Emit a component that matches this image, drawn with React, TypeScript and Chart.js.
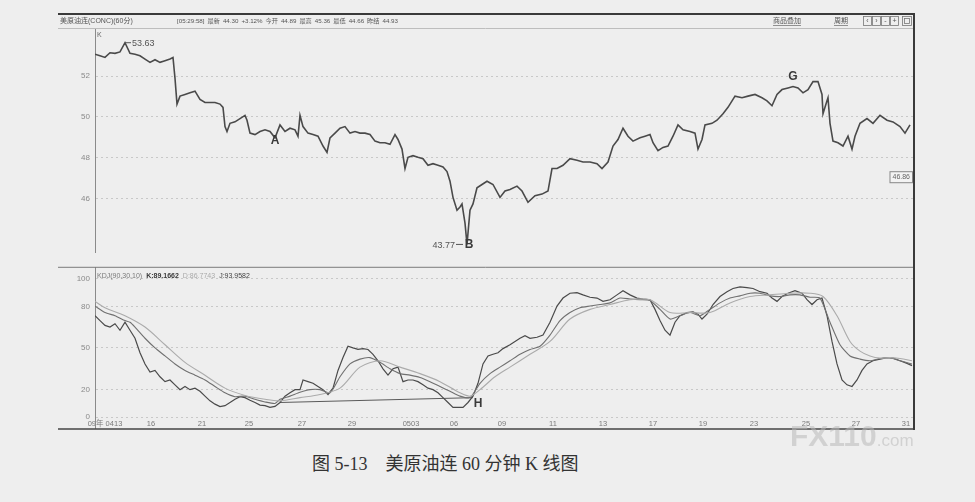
import { useEffect, useRef } from "react";
import { Chart, registerables } from "chart.js";

Chart.register(...registerables);

const SANS = "'Liberation Sans', 'Noto Sans CJK SC', sans-serif";

// 60-minute bar numbers (hours from the first bar) and closing prices
const priceBars = [
  0, 5, 10, 15, 20, 25, 30, 35, 40, 45,
  50, 55, 60, 65, 70, 75, 78, 80, 82, 85,
  90, 95, 100, 105, 110, 115, 120, 125, 128, 130,
  132, 135, 140, 145, 150, 152, 155, 160, 165, 170,
  175, 180, 185, 190, 195, 200, 203, 205, 208, 213,
  218, 223, 228, 232, 235, 240, 245, 250, 255, 260,
  265, 270, 275, 280, 285, 290, 295, 300, 303, 307,
  310, 313, 318, 323, 328, 333, 338, 343, 348, 352,
  355, 358, 362, 365, 367, 370, 372, 375, 378, 382,
  387, 392, 398, 405, 410, 415, 422, 427, 433, 440,
  447, 453, 457, 462, 468, 475, 482, 488, 495, 502,
  507, 513, 518, 523, 528, 533, 538, 545, 550, 555,
  558, 563, 568, 573, 578, 583, 588, 595, 600, 603,
  607, 610, 617, 622, 628, 633, 640, 647, 653, 660,
  667, 672, 677, 682, 687, 693, 698, 703, 708, 713,
  718, 723, 727, 728, 732, 733, 735, 738, 743, 748,
  753, 757, 760, 765, 772, 778, 785, 792, 798, 805,
  810, 815,
];
const priceClose = [
  53.07, 52.99, 52.91, 53.14, 53.11, 53.18, 53.63, 53.11, 53.07, 52.99,
  52.83, 52.67, 52.8, 52.67, 52.75, 52.83, 52.91, 51.89, 50.63, 51.02,
  51.1, 51.18, 51.26, 50.86, 50.71, 50.71, 50.71, 50.63, 50.47, 49.53,
  49.29, 49.69, 49.76, 49.92, 50.08, 49.84, 49.21, 49.14, 49.29, 49.37,
  49.29, 48.98, 49.61, 49.29, 49.45, 49.37, 49.06, 50.08, 49.53, 49.21,
  49.14, 49.06, 48.58, 48.27, 48.98, 49.21, 49.45, 49.53, 49.21, 49.29,
  49.21, 49.21, 49.14, 48.82, 48.74, 48.74, 48.66, 49.14, 48.9, 48.43,
  47.48, 48.03, 48.11, 48.03, 47.96, 47.64, 47.72, 47.64, 47.56, 47.33,
  46.86, 46.07, 45.44, 45.6, 45.75, 44.81, 43.77, 45.44, 45.75, 46.54,
  46.7, 46.86, 46.7, 46.07, 46.38, 46.46, 46.62, 46.38, 45.83, 46.15,
  46.23, 46.38, 47.48, 47.48, 47.64, 47.96, 47.88, 47.8, 47.8, 47.72,
  47.48, 47.8, 48.58, 48.9, 49.45, 49.06, 48.82, 48.98, 49.06, 49.14,
  48.74, 48.35, 48.51, 48.58, 49.06, 49.61, 49.37, 49.29, 49.21, 48.43,
  48.9, 49.61, 49.69, 49.84, 50.16, 50.47, 51.02, 50.94, 51.02, 51.1,
  50.94, 50.79, 50.55, 51.1, 51.34, 51.42, 51.49, 51.42, 51.18, 51.34,
  51.73, 51.73, 51.1, 50.16, 50.79, 50.94, 49.69, 48.82, 48.74, 48.58,
  49.06, 48.43, 49.06, 49.69, 49.92, 49.69, 50.08, 49.84, 49.76, 49.53,
  49.21, 49.61,
];
const priceTicks = [46, 48, 50, 52];
const priceHigh = 53.63;
const priceLow = 43.77;
const lastPrice = 46.86;
// marked turning points: A (bar 180) and G (bar 698)
const pointA = 180;
const pointG = 698;

// KDJ(90,30,10)
const jBars = [
  0, 5, 10, 15, 20, 25, 30, 35, 40, 45,
  50, 55, 60, 65, 70, 75, 80, 85, 90, 95,
  100, 105, 110, 115, 120, 125, 130, 135, 140, 145,
  150, 155, 160, 165, 170, 175, 180, 185, 190, 195,
  200, 205, 208, 213, 218, 223, 228, 233, 238, 243,
  248, 253, 258, 263, 268, 273, 278, 283, 288, 293,
  298, 303, 308, 313, 318, 323, 328, 333, 338, 343,
  348, 353, 358, 363, 368, 373, 378, 383, 388, 393,
  398, 403, 408, 415, 425, 430, 435, 442, 448, 455,
  462, 468, 475, 482, 488, 495, 502, 508, 515, 522,
  528, 535, 542, 548, 555, 560, 565, 570, 575, 580,
  585, 592, 598, 603, 607, 612, 618, 625, 632, 638,
  645, 652, 658, 665, 672, 677, 682, 687, 693, 700,
  707, 712, 717, 722, 727, 732, 737, 742, 747, 752,
  757, 762, 767, 772, 778, 785, 792, 798, 805, 812,
  817,
];
const jValues = [
  73.3, 69.8, 66.3, 65.1, 67.5, 62.8, 68.6, 62.8, 57.0, 46.5,
  38.4, 32.6, 33.7, 29.1, 25.6, 26.8, 23.3, 19.8, 22.1, 19.8,
  20.9, 18.6, 15.1, 11.7, 9.3, 7.5, 8.2, 10.5, 12.8, 14.7,
  14.0, 12.1, 10.5, 8.6, 8.2, 7.0, 7.7, 10.5, 15.1, 17.5,
  19.8, 19.8, 26.8, 25.6, 24.4, 22.1, 19.8, 16.3, 20.9, 33.7,
  43.0, 51.2, 50.0, 48.9, 49.5, 48.9, 45.4, 40.7, 34.9, 30.3,
  34.9, 36.1, 25.6, 26.8, 26.8, 25.6, 23.3, 20.9, 19.8, 17.5,
  14.0, 10.5, 7.0, 7.0, 7.0, 10.5, 15.1, 24.4, 38.4, 44.2,
  45.4, 46.5, 49.5, 52.3, 57.0, 58.8, 57.0, 57.7, 59.3, 68.6,
  80.3, 86.1, 89.6, 90.0, 88.4, 86.7, 86.1, 83.7, 84.9, 88.4,
  91.4, 88.4, 86.1, 85.4, 84.9, 77.9, 69.8, 62.8, 59.3, 68.6,
  73.3, 75.6, 76.1, 74.4, 70.9, 74.4, 81.4, 87.2, 90.7, 93.0,
  94.2, 93.7, 93.0, 90.7, 89.6, 86.1, 83.7, 87.2, 89.6, 91.4,
  89.6, 84.9, 81.4, 84.9, 86.1, 73.3, 54.7, 38.4, 26.8, 23.3,
  22.1, 26.8, 33.7, 38.4, 40.7, 41.9, 43.0, 42.6, 40.7, 38.8,
  37.2,
];
const kBars = [
  0, 10, 20, 30, 35, 40, 50, 60, 70, 80,
  90, 100, 110, 120, 130, 140, 150, 160, 170, 180,
  185, 195, 205, 215, 225, 235, 245, 255, 265, 275,
  285, 295, 305, 315, 325, 335, 345, 355, 365, 375,
  385, 395, 405, 415, 425, 435, 445, 455, 465, 475,
  485, 495, 505, 515, 525, 535, 545, 555, 565, 575,
  585, 595, 605, 615, 625, 635, 645, 655, 665, 675,
  685, 695, 705, 715, 725, 735, 745, 755, 765, 775,
  785, 795, 805, 817,
];
const kValues = [
  80.2, 75.6, 73.3, 69.8, 68.6, 65.1, 57.0, 50.0, 44.2, 38.4,
  33.7, 30.3, 26.8, 22.1, 17.5, 14.7, 15.1, 12.8, 10.9, 9.8,
  12.8, 15.1, 17.9, 19.8, 19.8, 17.5, 29.1, 38.4, 41.9, 43.0,
  39.6, 34.9, 31.4, 30.3, 28.6, 25.6, 22.1, 18.6, 15.1, 14.0,
  24.4, 31.4, 36.1, 40.7, 45.4, 48.9, 51.2, 59.3, 69.8, 75.6,
  79.1, 80.3, 81.4, 82.6, 86.1, 85.4, 84.9, 84.4, 77.9, 70.9,
  73.3, 75.6, 73.3, 77.9, 82.6, 86.1, 87.7, 89.6, 89.6, 87.7,
  87.2, 88.4, 88.4, 86.7, 86.1, 68.6, 52.3, 44.2, 41.9, 40.7,
  42.3, 43.0, 40.7, 38.4,
];
const dBars = [
  0, 10, 30, 50, 70, 90, 110, 130, 150, 170,
  185, 205, 225, 245, 265, 285, 305, 325, 345, 365,
  375, 385, 400, 415, 435, 455, 475, 495, 515, 535,
  555, 575, 595, 615, 635, 655, 675, 695, 715, 728,
  742, 755, 765, 775, 785, 795, 805, 817,
];
const dValues = [
  83.7, 79.1, 73.3, 65.1, 52.3, 39.5, 30.2, 20.9, 15.6, 12.8,
  11.7, 14.0, 16.3, 20.9, 36.1, 40.7, 36.1, 31.4, 25.6, 17.5,
  15.1, 19.8, 29.1, 36.1, 45.4, 54.7, 70.9, 77.9, 81.4, 84.9,
  84.9, 75.6, 75.6, 75.6, 82.6, 87.2, 88.4, 89.6, 89.6, 87.2,
  73.3, 54.7, 47.7, 44.2, 42.6, 43.0, 42.3, 40.7,
];
// support line drawn under the J lows, ending at H
const trendBars = [185, 378];
const trendValues = [10.5, 14.0];
const kdjTicks = [0, 20, 50, 80, 100];

const dateBars = [10, 56, 107, 154, 207, 257, 316, 359, 407, 458, 508, 558, 608, 659, 711, 761, 811];
const dateLabels = ["09年 0413", "16", "21", "25", "27", "29", "0503", "06", "09", "11", "13", "17", "19", "23", "25", "27", "31"];

const headerTitle = "美原油连(CONC)(60分)";
const quoteItems = ["[05:29:58]", "最新", "44.30", "+3.12%", "今开", "44.89", "最高", "45.36", "最低", "44.66", "昨结", "44.93"];
const kdjHeader = [
  { text: "KDJ(90,30,10)", color: "#7a7a7a", bold: false },
  { text: "K:89.1662", color: "#3a3a3a", bold: true },
  { text: "D:86.7743", color: "#aaaaaa", bold: false },
  { text: "J:93.9582", color: "#444444", bold: false },
];

const BAR_MAX = 818;

const toPoints = (xs: number[], ys: number[]) => xs.map((x, i) => ({ x, y: ys[i] }));

function seg(ctx: CanvasRenderingContext2D, x1: number, y1: number, x2: number, y2: number) {
  ctx.beginPath();
  ctx.moveTo(x1, y1);
  ctx.lineTo(x2, y2);
  ctx.stroke();
}

export default function App() {
  const priceRef = useRef<HTMLCanvasElement>(null);
  const kdjRef = useRef<HTMLCanvasElement>(null);

  useEffect(() => {
    Chart.defaults.font.family = SANS;

    const priceDecor = {
      id: "priceDecor",
      afterDraw(chart: any) {
        const { ctx, chartArea: a, scales } = chart;
        const xs = scales.x;
        const ys = scales.y;
        ctx.save();
        // window frame
        ctx.strokeStyle = "#3a3a3a";
        ctx.lineWidth = 2;
        seg(ctx, 58, 14, a.right + 1, 14);
        seg(ctx, a.right + 1, 13, a.right + 1, chart.height);
        ctx.strokeStyle = "#bdbdbd";
        ctx.lineWidth = 1;
        seg(ctx, 58, a.top - 0.5, a.right, a.top - 0.5);

        // header line
        ctx.textBaseline = "middle";
        ctx.textAlign = "left";
        ctx.font = `7px ${SANS}`;
        ctx.fillStyle = "#555";
        ctx.fillText(headerTitle, 60, 21);
        ctx.font = `6.2px ${SANS}`;
        let hx = 177;
        quoteItems.forEach((s) => {
          ctx.fillText(s, hx, 21);
          hx += ctx.measureText(s).width + 3;
        });
        ctx.font = `7px ${SANS}`;
        ctx.fillText("商品叠加", 773, 21);
        ctx.fillText("周期", 834, 21);
        ctx.strokeStyle = "#777";
        ctx.lineWidth = 0.8;
        seg(ctx, 773, 25.5, 773 + ctx.measureText("商品叠加").width, 25.5);
        seg(ctx, 834, 25.5, 834 + ctx.measureText("周期").width, 25.5);
        const btns = ["‹", "›", "-", "+"];
        btns.forEach((b, i) => {
          const bx = 863 + i * 9;
          ctx.strokeRect(bx + 0.5, 16.5, 8, 9);
          ctx.textAlign = "center";
          ctx.fillText(b, bx + 4.5, 21);
        });
        ctx.strokeRect(902.5, 16.5, 9, 9);
        ctx.strokeRect(904.5, 18.5, 5, 5);
        ctx.textAlign = "left";

        // chart type mark
        ctx.font = `7px ${SANS}`;
        ctx.fillStyle = "#666";
        ctx.fillText("K", a.left + 2, a.top + 6);

        // high marker
        const iHi = priceClose.indexOf(priceHigh);
        const hpx = xs.getPixelForValue(priceBars[iHi]);
        const hpy = ys.getPixelForValue(priceHigh);
        ctx.strokeStyle = "#555";
        ctx.lineWidth = 1;
        seg(ctx, hpx, hpy, hpx + 6, hpy);
        ctx.font = `9px ${SANS}`;
        ctx.fillStyle = "#555";
        ctx.fillText(priceHigh.toFixed(2), hpx + 7, hpy + 1);

        // low marker with B
        const iLo = priceClose.indexOf(priceLow);
        const lpx = xs.getPixelForValue(priceBars[iLo]);
        const lpy = ys.getPixelForValue(priceLow);
        seg(ctx, lpx - 11, lpy, lpx - 4, lpy);
        ctx.textAlign = "right";
        ctx.fillText(priceLow.toFixed(2), lpx - 12, lpy + 1);
        ctx.textAlign = "center";
        ctx.font = `bold 12px ${SANS}`;
        ctx.fillStyle = "#3a3a3a";
        ctx.fillText("B", lpx + 2, lpy);

        // A and G
        const iA = priceBars.indexOf(pointA);
        ctx.fillText("A", xs.getPixelForValue(pointA), ys.getPixelForValue(priceClose[iA]) + 3);
        const iG = priceBars.indexOf(pointG);
        ctx.fillText("G", xs.getPixelForValue(pointG), ys.getPixelForValue(priceClose[iG]) - 10);

        // last price tag
        ctx.font = `7px ${SANS}`;
        const tag = lastPrice.toFixed(2);
        const tw = ctx.measureText(tag).width + 5;
        const ty = ys.getPixelForValue(lastPrice) - 4;
        ctx.fillStyle = "#f3f3f3";
        ctx.fillRect(a.right - tw - 1, ty - 5.5, tw, 11);
        ctx.strokeStyle = "#888";
        ctx.strokeRect(a.right - tw - 0.5, ty - 5.5, tw, 11);
        ctx.fillStyle = "#666";
        ctx.fillText(tag, a.right - tw / 2 - 0.5, ty);
        ctx.restore();
      },
    };

    const kdjDecor = {
      id: "kdjDecor",
      afterDraw(chart: any) {
        const { ctx, chartArea: a, scales } = chart;
        ctx.save();
        ctx.strokeStyle = "#7a7a7a";
        ctx.lineWidth = 1;
        seg(ctx, 58, a.top - 0.5, a.right, a.top - 0.5);
        ctx.strokeStyle = "#8a8a8a";
        seg(ctx, a.left + 0.5, a.bottom, a.left + 0.5, a.bottom + 12);
        ctx.strokeStyle = "#444";
        ctx.lineWidth = 1.5;
        seg(ctx, 58, a.bottom + 12, a.right + 2, a.bottom + 12);
        ctx.strokeStyle = "#3a3a3a";
        ctx.lineWidth = 2;
        seg(ctx, a.right + 1, 0, a.right + 1, a.bottom + 13);

        // indicator header
        ctx.textBaseline = "middle";
        ctx.textAlign = "left";
        let kx = a.left + 2;
        kdjHeader.forEach((h) => {
          ctx.font = `${h.bold ? "bold " : ""}7px ${SANS}`;
          ctx.fillStyle = h.color;
          ctx.fillText(h.text, kx, a.top + 8);
          kx += ctx.measureText(h.text).width + 4;
        });

        // H at the end of the support line
        const hx = scales.x.getPixelForValue(trendBars[1]);
        const hy = scales.y.getPixelForValue(trendValues[1]);
        ctx.font = `bold 12px ${SANS}`;
        ctx.fillStyle = "#3a3a3a";
        ctx.textAlign = "center";
        ctx.fillText("H", hx + 5, hy + 6);
        ctx.restore();
      },
    };

    const yTickFont = { size: 8, family: SANS };

    const priceChart = new Chart(priceRef.current as HTMLCanvasElement, {
      type: "line",
      data: {
        datasets: [
          {
            data: toPoints(priceBars, priceClose),
            borderColor: "#4a4a4a",
            borderWidth: 1.6,
            pointRadius: 0,
            tension: 0,
          },
        ],
      },
      options: {
        animation: false,
        responsive: false,
        maintainAspectRatio: false,
        events: [],
        layout: { padding: { left: 0, right: 62, top: 29, bottom: 2 } },
        plugins: { legend: { display: false }, tooltip: { enabled: false } },
        scales: {
          x: { type: "linear", min: 0, max: BAR_MAX, display: false },
          y: {
            min: 43.39,
            max: 54.3,
            bounds: "data",
            afterFit: (s: any) => {
              s.width = 95;
            },
            afterBuildTicks: (s: any) => {
              s.ticks = priceTicks.map((v) => ({ value: v }));
            },
            ticks: { color: "#8a8a8a", font: yTickFont, padding: 5 },
            grid: { color: "#c8c8c8", drawTicks: false },
            border: { display: true, color: "#8a8a8a", width: 1, dash: [2, 3] },
          },
        },
      } as any,
      plugins: [priceDecor],
    });

    const kdjChart = new Chart(kdjRef.current as HTMLCanvasElement, {
      type: "line",
      data: {
        datasets: [
          { data: toPoints(dBars, dValues), borderColor: "#ababab", borderWidth: 1.1, pointRadius: 0, tension: 0.3 },
          { data: toPoints(kBars, kValues), borderColor: "#707070", borderWidth: 1.1, pointRadius: 0, tension: 0.2 },
          { data: toPoints(jBars, jValues), borderColor: "#4a4a4a", borderWidth: 1.2, pointRadius: 0, tension: 0 },
          { data: toPoints(trendBars, trendValues), borderColor: "#5a5a5a", borderWidth: 1, pointRadius: 0, tension: 0 },
        ],
      },
      options: {
        animation: false,
        responsive: false,
        maintainAspectRatio: false,
        events: [],
        layout: { padding: { left: 0, right: 62, top: 4, bottom: 7 } },
        plugins: { legend: { display: false }, tooltip: { enabled: false } },
        scales: {
          x: {
            type: "linear",
            min: 0,
            max: BAR_MAX,
            bounds: "data",
            position: "bottom",
            afterFit: (s: any) => {
              s.height = 14;
            },
            afterBuildTicks: (s: any) => {
              s.ticks = dateBars.map((v) => ({ value: v }));
            },
            ticks: {
              autoSkip: false,
              maxRotation: 0,
              padding: 2,
              color: "#7a7a7a",
              font: { size: 7.5, family: SANS },
              callback: (_v: any, i: number) => dateLabels[i],
            },
            grid: { display: false, drawTicks: false },
            border: { display: false },
          },
          y: {
            min: 0,
            max: 108,
            bounds: "data",
            afterFit: (s: any) => {
              s.width = 95;
            },
            afterBuildTicks: (s: any) => {
              s.ticks = kdjTicks.map((v) => ({ value: v }));
            },
            ticks: { color: "#8a8a8a", font: yTickFont, padding: 5 },
            grid: { color: "#c8c8c8", drawTicks: false },
            border: { display: true, color: "#8a8a8a", width: 1, dash: [2, 3] },
          },
        },
      } as any,
      plugins: [kdjDecor],
    });

    return () => {
      priceChart.destroy();
      kdjChart.destroy();
    };
  }, []);

  return (
    <div
      style={{
        position: "fixed",
        left: 0,
        top: 0,
        width: 975,
        height: 502,
        background: "#eeeeee",
        overflow: "hidden",
      }}
    >
      <canvas ref={priceRef} width={975} height={262} style={{ position: "absolute", left: 0, top: 0 }} />
      <canvas ref={kdjRef} width={975} height={180} style={{ position: "absolute", left: 0, top: 258 }} />
      <div
        style={{
          position: "absolute",
          left: 790,
          top: 419,
          fontFamily: SANS,
          fontWeight: "bold",
          fontSize: 30,
          color: "rgba(185,185,185,0.55)",
          whiteSpace: "pre",
          lineHeight: "34px",
        }}
      >
        FX110<span style={{ fontSize: 17, fontWeight: "normal" }}>.com</span>
      </div>
      <div
        style={{
          position: "absolute",
          left: 312,
          top: 453,
          fontFamily: "'Liberation Serif', 'Noto Sans CJK SC', serif",
          fontSize: 18,
          lineHeight: "22px",
          color: "#333",
          whiteSpace: "pre",
        }}
      >
        图 5-13　美原油连 60 分钟 K 线图
      </div>
    </div>
  );
}
